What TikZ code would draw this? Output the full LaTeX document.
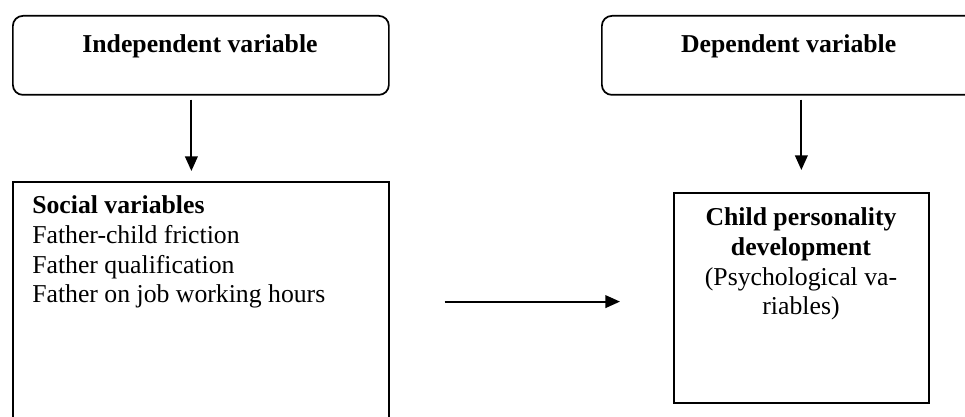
\documentclass[tikz,border=0pt]{standalone}
\usepackage{fontspec}
\setmainfont{Liberation Serif}
\usetikzlibrary{arrows.meta}
\tikzset{
  boxline/.style={draw=black, line width=1.3pt, inner sep=0pt, anchor=north west},
  rbox/.style={boxline, rounded corners=7.5pt},
  sbox/.style={boxline},
  txt/.style={inner sep=0pt, font=\fontsize{19.3}{22.3}\selectfont},
  arr/.style={draw=black, line width=1.4pt, -{Triangle[length=11pt,width=9.5pt]}}
}
\begin{document}
\begin{tikzpicture}[x=0.75pt,y=-0.75pt]
\clip (0,0) rectangle (965,417);
\fill[white] (0,0) rectangle (965,417);
% boxes
\node[rbox, minimum width=282pt, minimum height=59.25pt] (b1) at (12,15) {};
\node[rbox, minimum width=280.5pt, minimum height=59.25pt] (b3) at (601,15) {};
\node[sbox, minimum width=282pt, minimum height=183pt] (b2) at (12,181) {};
\node[sbox, minimum width=191.25pt, minimum height=157.5pt] (b4) at (673,192) {};
% texts
\node[txt, anchor=base] (t1) at (200,53) {\bfseries Independent variable};
\node[txt, anchor=base] (t3) at (788.7,53) {\bfseries Dependent variable};
\node[txt, anchor=base west, align=left] (t2) at (32,303)
  {\textbf{Social variables}\\Father-child friction\\Father qualification\\Father on job working hours};
\node[txt, anchor=base, align=center] (t4) at (801,315)
  {\textbf{Child personality}\\\textbf{development}\\(Psychological va-\\riables)};
% arrows
\draw[arr, shorten <=3pt, shorten >=7.5pt] ([xshift=-7.1pt]b1.south) -- ([xshift=-7.1pt]b2.north);
\draw[arr, shorten <=3pt, shorten >=16.5pt] (b3.south -| b4.north) -- (b4.north);
\draw[arr, shorten <=41.25pt, shorten >=39.75pt] ([yshift=1.7pt]b2.east) -- ([yshift=1.7pt]b2.east -| b4.west);
\end{tikzpicture}
\end{document}
